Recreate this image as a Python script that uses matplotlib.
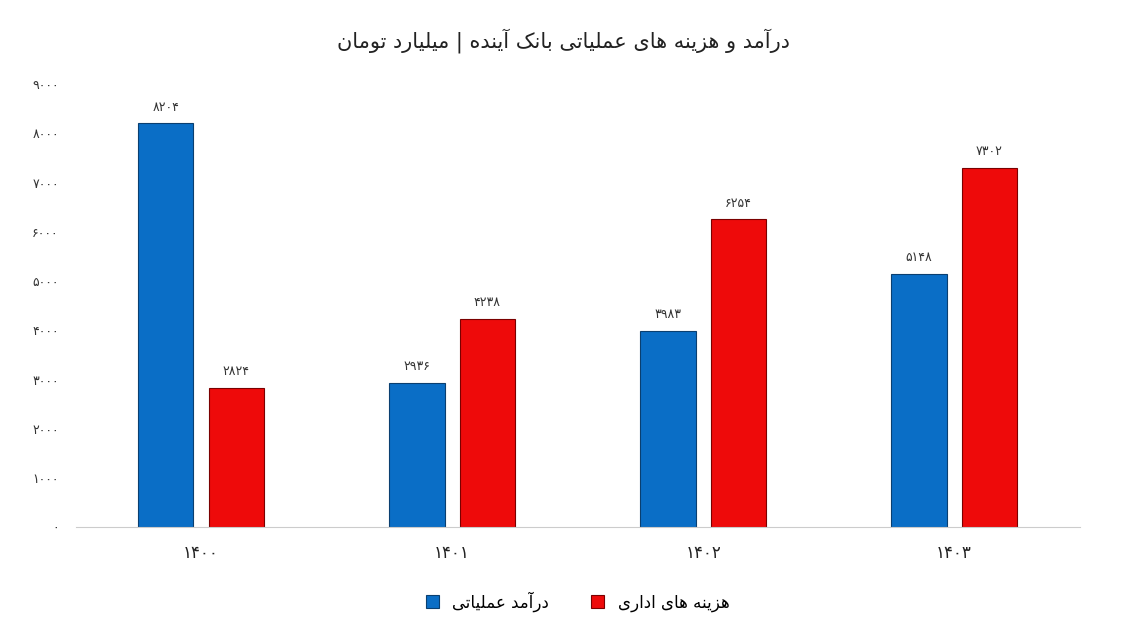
import matplotlib
matplotlib.use("Agg")
import matplotlib.pyplot as plt

years = ["۱۴۰۰", "۱۴۰۱", "۱۴۰۲", "۱۴۰۳"]
income = [8204, 2936, 3983, 5148]
expense = [2824, 4238, 6254, 7302]
yticks = [0, 1000, 2000, 3000, 4000, 5000, 6000, 7000, 8000, 9000]

FORMS = {  # iso, fin, ini, med
    'ا': ('\uFE8D', '\uFE8E', None, None), 'آ': ('\uFE81', '\uFE82', None, None),
    'ب': ('\uFE8F', '\uFE90', '\uFE91', '\uFE92'), 'ت': ('\uFE95', '\uFE96', '\uFE97', '\uFE98'),
    'د': ('\uFEA9', '\uFEAA', None, None), 'ر': ('\uFEAD', '\uFEAE', None, None),
    'ز': ('\uFEAF', '\uFEB0', None, None), 'ع': ('\uFEC9', '\uFECA', '\uFECB', '\uFECC'),
    'ک': ('\uFB8E', '\uFB8F', '\uFB90', '\uFB91'), 'ل': ('\uFEDD', '\uFEDE', '\uFEDF', '\uFEE0'),
    'م': ('\uFEE1', '\uFEE2', '\uFEE3', '\uFEE4'), 'ن': ('\uFEE5', '\uFEE6', '\uFEE7', '\uFEE8'),
    'ه': ('\uFEE9', '\uFEEA', '\uFEEB', '\uFEEC'), 'و': ('\uFEED', '\uFEEE', None, None),
    'ی': ('\uFBFC', '\uFBFD', '\uFBFE', '\uFBFF'),
}

def fa(s):
    out = []
    for i, c in enumerate(s):
        if c not in FORMS:
            out.append(c); continue
        iso, fin, ini, med = FORMS[c]
        p = s[i-1] if i > 0 else ''
        n = s[i+1] if i + 1 < len(s) else ''
        jp = p in FORMS and FORMS[p][2] is not None
        jn = n in FORMS and ini is not None
        if jp and jn: f = med
        elif jp: f = fin
        elif jn: f = ini
        else: f = iso
        out.append(f)
    return ''.join(reversed(out))

plt.rcParams['font.family'] = 'DejaVu Sans'
fig = plt.figure(figsize=(11.27, 6.33), dpi=100)
ax = fig.add_axes([0.067, 0.167, 0.891, 0.70])
x = range(len(years))
w = 0.22
blue, red = '#0a6ec6', '#ee0a0a'
b1 = ax.bar([i - 0.14 for i in x], income, w, color=blue, edgecolor='#0a3f70', linewidth=0.8)
b2 = ax.bar([i + 0.14 for i in x], expense, w, color=red, edgecolor='#7a0000', linewidth=0.8)
pd = str.maketrans('0123456789', '۰۱۲۳۴۵۶۷۸۹')
for bars, vals in ((b1, income), (b2, expense)):
    for b, v in zip(bars, vals):
        ax.text(b.get_x() + b.get_width()/2, v + 200, str(v).translate(pd),
                ha='center', va='bottom', fontsize=9, color='#333333')
ax.set_xlim(-0.5, 3.5)
ax.set_ylim(0, 9000)
ax.set_yticks(yticks)
ax.set_yticklabels([str(t).translate(pd) for t in yticks], fontsize=9, color='#333333')
ax.set_xticks(list(x))
ax.set_xticklabels(years, fontsize=12, color='#222222')
ax.tick_params(length=0, pad=12)
for s in ('top', 'right', 'left'):
    ax.spines[s].set_visible(False)
ax.spines['bottom'].set_color('#cccccc')
fig.text(0.5, 0.925, fa('درآمد و هزینه های عملیاتی بانک آینده | میلیارد تومان'),
         ha='center', fontsize=15, color='#222222')
leg = ax.legend([b1, b2], [fa('درآمد عملیاتی'), fa('هزینه های اداری')],
                loc='upper center', bbox_to_anchor=(0.5, -0.11), ncol=2, frameon=False,
                fontsize=12, handlelength=0.8, handleheight=0.8, columnspacing=2.5)
fig.savefig('out.png', dpi=100)
